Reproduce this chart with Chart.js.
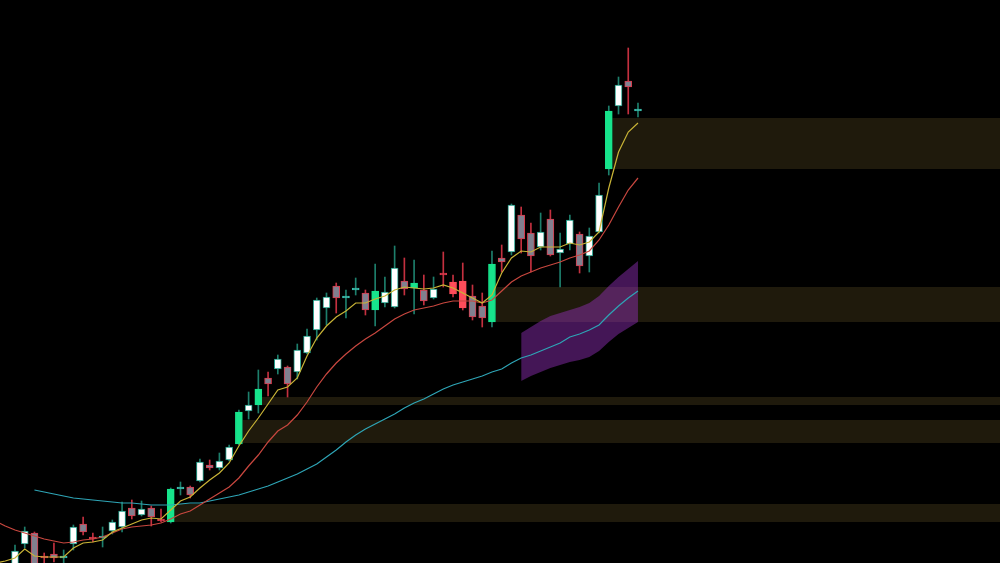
<!DOCTYPE html>
<html>
<head>
<meta charset="utf-8">
<script src="https://cdn.jsdelivr.net/npm/chart.js@4.4.0/dist/chart.umd.min.js"></script>
<style>
  html, body { margin: 0; padding: 0; background: #000; }
  #wrap { width: 1000px; height: 563px; }
</style>
</head>
<body>
<div id="wrap"><canvas id="myChart"></canvas></div>
<script>
// candles, index 0..64
const opens  = [-3, 19, 30, 7, 9, 5, 19, 39, 26, 25, 32, 36, 55, 48, 55, 44, 41, 74, 76, 82,
                98, 95, 103, 119, 152, 158, 185, 194, 196, 191, 210, 233, 255, 277, 265, 273, 270, 253, 260, 256,
                282, 275, 273, 265, 290, 281, 282, 267, 257, 241, 305, 311, 348, 330, 316, 344, 310, 319, 329, 307,
                331, 394, 457, 482, 452];
const highs  = [18, 36, 31, 10, 20, 13, 38, 46, 30, 36, 43, 61, 63, 62, 57, 54, 75, 81, 77, 104,
                103, 110, 118, 153, 171, 193, 191, 208, 197, 219, 234, 265, 270, 280, 273, 285, 273, 299, 286, 317,
                305, 303, 288, 286, 311, 288, 300, 278, 270, 312, 318, 359, 356, 340, 350, 353, 330, 348, 331, 335,
                380, 457, 486, 515, 460];
const lows   = [-5, 15, -5, -2, 1, -2, 13, 28, 21, 16, 29, 31, 44, 47, 37, 41, 40, 68, 65, 81,
                93, 93, 102, 118, 144, 150, 167, 189, 166, 184, 209, 223, 238, 250, 245, 268, 248, 237, 256, 255,
                268, 249, 258, 264, 276, 266, 253, 243, 236, 236, 291, 308, 310, 291, 313, 307, 276, 313, 290, 291,
                330, 388, 449, 449, 446];
const closes = [12, 32, -3, 5, 5, 7, 36, 31, 24, 27, 41, 52, 47, 54, 46, 42, 74, 76, 68, 101,
                95, 102, 116, 151, 158, 174, 179, 204, 179, 213, 227, 263, 266, 265, 267, 275, 253, 272, 271, 295,
                274, 280, 262, 274, 288, 269, 255, 246, 245, 299, 301, 358, 324, 307, 331, 308, 314, 343, 297, 327,
                368, 452, 478, 476, 454];
// candles drawn solid instead of hollow/grey
const solidBars = [16, 23, 25, 37, 41, 45, 46, 49, 61];

// moving averages, first point at index -2 (just off the left edge)
const maFirst = -2;
const ma5  = [0, 2, 5, 14, 7, 6, 6, 6, 15, 20, 21, 23, 31, 35, 39, 43, 45, 44, 53, 62,
              66, 75, 83, 90, 100, 117, 132, 145, 159, 173, 176, 185, 207, 225, 237, 246, 252, 260, 260, 264,
              267, 273, 276, 275, 274, 275, 278, 275, 270, 265, 260, 268, 290, 305, 312, 311, 316, 316, 316, 320,
              318, 321, 331, 375, 411, 431, 440];
const ma10 = [42, 37, 33, 30, 27, 24, 22, 20, 21, 23, 24, 26, 30, 34, 36, 37, 38, 40, 44, 49,
              52, 58, 64, 70, 76, 85, 97, 108, 121, 132, 138, 148, 161, 176, 189, 200, 209, 217, 224, 230,
              237, 244, 249, 253, 255, 257, 260, 262, 262, 262, 260, 263, 272, 281, 287, 291, 295, 298, 301, 305,
              308, 312, 323, 338, 356, 373, 385];
// long average starts at index 2
const maLongFirst = 2;
const maLong = [73, 71, 69, 67, 65, 64, 63, 62, 61, 60, 60, 59, 58, 58, 58, 59, 60, 60, 62, 64,
                66, 68, 71, 74, 77, 81, 85, 89, 94, 99, 106, 113, 121, 128, 134, 139, 144, 149, 155, 160,
                164, 169, 174, 178, 181, 184, 187, 191, 194, 200, 205, 208, 212, 216, 220, 226, 229, 233, 238, 248,
                257, 265, 272];

// channel around the long average, from index 52
const chanFirst = 52;
const chanUpper = [230, 236, 242, 247, 250, 253, 256, 260, 267, 277, 286, 294, 302];
const chanLower = [182, 187, 191, 195, 198, 201, 203, 206, 212, 221, 229, 235, 241];

// support zones left by the big green candles
const zoneStart  = [16, 23, 25, 49, 61];
const zoneTop    = [59, 143, 166, 276, 445];
const zoneBottom = [41, 120, 158, 241, 394];

const UP_BORDER = "#1f9a86", UP_WICK = "#1d7f6c", UP_SOLID = "#17e48c";
const DN_BORDER = "#d93a4c", DN_WICK = "#c4303f", DN_SOLID = "#ff4d5a", DN_FILL = "#80808f";

const n = opens.length;
const bodyColor = [], edgeColor = [], wickColor = [];
for (let i = 0; i < n; i++) {
  const up = closes[i] >= opens[i];
  const doji = Math.abs(closes[i] - opens[i]) <= 2;
  const solid = solidBars.includes(i);
  wickColor.push(up ? UP_WICK : DN_WICK);
  if (up) {
    edgeColor.push(solid ? UP_SOLID : (doji ? "#3cbfae" : UP_BORDER));
    bodyColor.push(solid ? UP_SOLID : (doji ? "#3cbfae" : "#ffffff"));
  } else {
    edgeColor.push(solid ? DN_SOLID : DN_BORDER);
    bodyColor.push(solid ? DN_SOLID : (doji ? DN_BORDER : DN_FILL));
  }
}

const datasets = [];

zoneStart.forEach((s, k) => {
  datasets.push({
    type: "line", order: 10, pointRadius: 0, borderWidth: 0, fill: false,
    borderColor: "rgba(0,0,0,0)",
    data: [{ x: s + 0.35, y: zoneTop[k] }, { x: 110, y: zoneTop[k] }]
  });
  datasets.push({
    type: "line", order: 10, pointRadius: 0, borderWidth: 0, fill: "-1",
    borderColor: "rgba(0,0,0,0)", backgroundColor: "rgba(120,100,45,0.26)",
    data: [{ x: s + 0.35, y: zoneBottom[k] }, { x: 110, y: zoneBottom[k] }]
  });
});

datasets.push({
  type: "line", order: 9, pointRadius: 0, borderWidth: 0, fill: false,
  borderColor: "rgba(0,0,0,0)",
  data: chanUpper.map((v, i) => ({ x: chanFirst + i, y: v }))
});
datasets.push({
  type: "line", order: 9, pointRadius: 0, borderWidth: 0, fill: "-1",
  borderColor: "rgba(0,0,0,0)", backgroundColor: "rgba(150,48,190,0.45)",
  data: chanLower.map((v, i) => ({ x: chanFirst + i, y: v }))
});

datasets.push({
  type: "bar", order: 6, grouped: false, barThickness: 1,
  backgroundColor: wickColor, borderWidth: 0,
  data: highs.map((h, i) => ({ x: i, y: [lows[i], h] }))
});
datasets.push({
  type: "bar", order: 5, grouped: false, barThickness: 7,
  backgroundColor: bodyColor, borderColor: edgeColor, borderWidth: 1, borderSkipped: false,
  data: opens.map((o, i) => ({ x: i, y: [o, closes[i]] }))
});

const lineSet = (vals, first, color) => ({
  type: "line", order: 1, pointRadius: 0, borderWidth: 1.2, tension: 0, fill: false,
  borderColor: color,
  data: vals.map((v, i) => ({ x: first + i, y: v }))
});
datasets.push(lineSet(ma5, maFirst, "#c9b436"));
datasets.push(lineSet(ma10, maFirst, "#c8473f"));
datasets.push(lineSet(maLong, maLongFirst, "#2ea5b6"));

new Chart("myChart", {
  type: "line",
  data: { datasets: datasets },
  options: {
    responsive: true,
    maintainAspectRatio: false,
    animation: false,
    layout: { padding: 0 },
    plugins: { legend: { display: false }, tooltip: { enabled: false } },
    scales: {
      x: { type: "linear", min: -1.54, max: 101.19, offset: false, display: false },
      y: { min: 0, max: 563, display: false }
    }
  }
});
</script>
</body>
</html>
